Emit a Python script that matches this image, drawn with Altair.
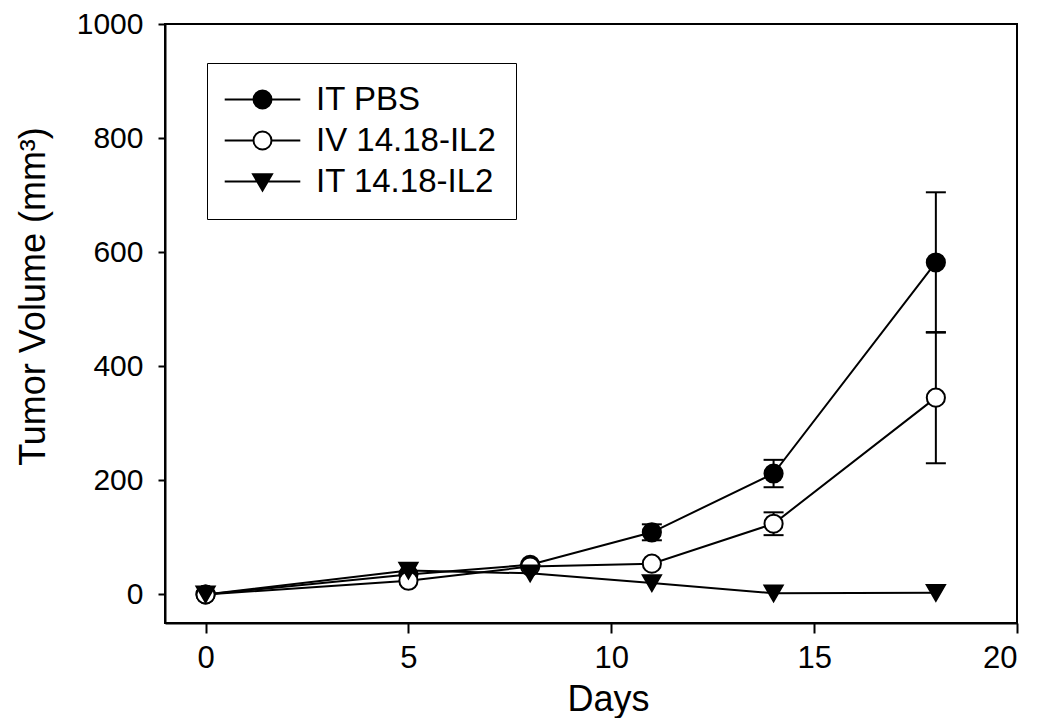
import altair as alt
import pandas as pd

# ---- data ----
days = [0, 5, 8, 11, 14, 18]
series_names = ["IT PBS", "IV 14.18-IL2", "IT 14.18-IL2"]

pbs_vol = [0, 35, 52, 109, 212, 582]
pbs_err = [0, 0, 0, 14, 24, 123]

iv_vol = [0, 24, 49, 54, 124, 345]
iv_err = [0, 0, 0, 0, 20, 115]

it_vol = [0, 42, 37, 20, 2, 3]
it_err = [0, 0, 0, 0, 0, 0]

x_ticks = [0, 5, 10, 15, 20]
y_ticks = [0, 200, 400, 600, 800, 1000]

# ---- table ----
rows = []
for name, vols, errs in zip(series_names, [pbs_vol, iv_vol, it_vol], [pbs_err, iv_err, it_err]):
    for d, v, e in zip(days, vols, errs):
        rows.append({"series": name, "day": d, "volume": v, "err": e,
                     "lo": v - e, "hi": v + e})
df = pd.DataFrame(rows)
df_err = df[df["err"] > 0]

FONT = "Liberation Sans"

x_enc = alt.X("day:Q",
              scale=alt.Scale(domain=[-1, 20], nice=False, zero=False),
              axis=alt.Axis(values=x_ticks, title="Days", format="d",
                            labelFontSize=31, titleFontSize=36,
                            tickSize=10, labelPadding=10,
                            titleX=443, titleY=76, titleBaseline="middle",
                            titleAlign="center"))
y_enc = alt.Y("volume:Q",
              scale=alt.Scale(domain=[-50, 1000], nice=False, zero=False),
              axis=alt.Axis(values=y_ticks, title="Tumor Volume (mm³)", format="d",
                            labelFontSize=30, titleFontSize=36,
                            tickSize=7, labelPadding=15,
                            titleX=-132, titleY=272, titleAngle=-90,
                            titleBaseline="middle", titleAlign="center"))

base = alt.Chart(df)

lines = base.mark_line(color="black", strokeWidth=2).encode(
    x=x_enc, y=y_enc, detail="series:N")

err_base = alt.Chart(df_err)
err_rule = err_base.mark_rule(color="black", strokeWidth=2).encode(
    x="day:Q", y="lo:Q", y2="hi:Q")
cap_lo = err_base.mark_tick(color="black", orient="horizontal", size=20,
                            thickness=2, opacity=1).encode(x="day:Q", y="lo:Q")
cap_hi = err_base.mark_tick(color="black", orient="horizontal", size=20,
                            thickness=2, opacity=1).encode(x="day:Q", y="hi:Q")

points = base.mark_point(stroke="black", strokeWidth=2, size=330, opacity=1,
                         fillOpacity=1).encode(
    x="day:Q", y="volume:Q",
    shape=alt.Shape("series:N",
                    scale=alt.Scale(domain=series_names,
                                    range=["circle", "circle", "triangle-down"]),
                    legend=None),
    fill=alt.Fill("series:N",
                  scale=alt.Scale(domain=series_names,
                                  range=["black", "white", "black"]),
                  legend=None))

# legend symbols: line segment with the marker, as custom paths
path_circle = "M-4.2,0H-1M1,0H4.2M-1,0A1,1,0,1,0,1,0A1,1,0,1,0,-1,0Z"
path_tri = "M-4.2,0H4.2M-1.05,-0.8L1.05,-0.8L0,1Z"

legend_def = alt.Legend(
    orient="none", legendX=42, legendY=39, direction="vertical", title=None,
    fillColor="white", strokeColor="black", padding=20,
    labelFont=FONT, labelFontSize=33, labelColor="black", labelLimit=400,
    labelOffset=37, symbolOffset=19, symbolSize=324,
    symbolStrokeColor="black", symbolStrokeWidth=2,
    rowPadding=7)

# legend-only layer: draws nothing (empty after filter), only feeds the legend
legend_layer = base.transform_filter("datum.day < -100").mark_point(
    strokeWidth=2, opacity=1, fillOpacity=1).encode(
    x="day:Q", y="volume:Q",
    shape=alt.Shape("series:N",
                    scale=alt.Scale(domain=series_names,
                                    range=[path_circle, path_circle, path_tri]),
                    legend=legend_def),
    fill=alt.Fill("series:N",
                  scale=alt.Scale(domain=series_names,
                                  range=["black", "white", "black"]),
                  legend=legend_def),
    stroke=alt.Stroke("series:N",
                      scale=alt.Scale(domain=series_names,
                                      range=["black", "black", "black"]),
                      legend=legend_def))

chart = alt.layer(lines, err_rule, cap_lo, cap_hi, points, legend_layer).resolve_scale(
    shape="independent", fill="independent", stroke="independent"
).resolve_legend(
    shape="independent", fill="independent", stroke="independent"
).properties(
    width=852, height=599,
    autosize=alt.AutoSizeParams(type="none"),
    padding={"left": 157, "top": 16, "right": 25, "bottom": 95},
    background="white",
).configure_view(
    stroke="black", strokeWidth=2
).configure_axis(
    grid=False, domainColor="black", domainWidth=2, tickColor="black",
    tickWidth=2, labelColor="black", titleColor="black",
    labelFont=FONT, titleFont=FONT, titleFontWeight="normal",
    labelFontWeight="normal"
)

chart.save("out.html", embed_options={"renderer": "svg", "actions": False})
